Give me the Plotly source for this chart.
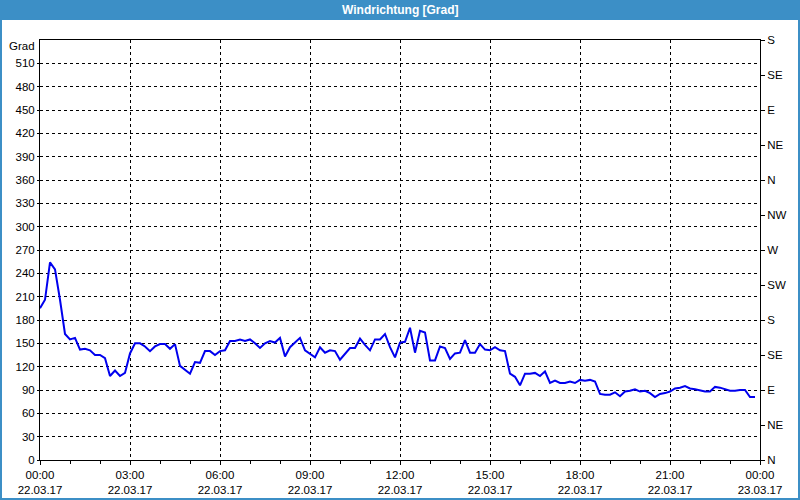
import plotly.graph_objects as go
import pandas as pd

# Wind direction in degrees, 10-minute samples from 22.03.17 00:00
direction = [
    195, 206, 254, 245, 206, 162, 155, 157, 142, 143, 141, 135,
    135, 131, 108, 115, 108, 112, 137, 150, 150, 146, 140, 146,
    149, 149, 143, 149, 121, 116, 111, 126, 125, 140, 140, 135,
    140, 141, 153, 153, 155, 153, 155, 150, 144, 150, 153, 151,
    157, 133, 145, 151, 157, 141, 137, 132, 145, 138, 141, 140,
    129, 137, 144, 144, 156, 148, 141, 155, 155, 162, 145, 132,
    151, 152, 170, 138, 166, 164, 128, 128, 146, 144, 130, 137,
    138, 154, 138, 138, 149, 142, 141, 145, 141, 140, 111, 107,
    96, 111, 111, 112, 108, 114, 99, 102, 99, 99, 101, 99,
    103, 102, 103, 101, 85, 84, 84, 87, 82, 88, 89, 91,
    88, 89, 86, 81, 85, 86, 88, 92, 93, 95, 92, 91,
    89, 88, 88, 94, 93, 91, 89, 89, 90, 90, 81, 81,
]
times = pd.date_range("2017-03-22 00:00", periods=len(direction), freq="10min")

left_ticks = list(range(0, 540, 30))
compass_vals = list(range(0, 541, 45))
compass_text = ["N", "NE", "E", "SE", "S", "SW", "W", "NW", "N", "NE", "E", "SE", "S"]

fig = go.Figure()
fig.add_trace(go.Scatter(x=times, y=direction, mode="lines",
                         line=dict(color="#0000ee", width=2), showlegend=False))
# invisible trace for right axis
fig.add_trace(go.Scatter(x=[times[0]], y=[0], yaxis="y2", mode="markers",
                         marker=dict(opacity=0), showlegend=False, hoverinfo="skip"))

font = dict(family="Liberation Sans, Arial, sans-serif", size=11.5, color="black")

fig.update_layout(
    width=800, height=500,
    margin=dict(l=40, r=40, t=40, b=40),
    paper_bgcolor="white", plot_bgcolor="white",
    font=font,
    xaxis=dict(
        type="date", automargin=False,
        range=["2017-03-22 00:00", "2017-03-23 00:00"],
        dtick=3 * 3600000, tick0="2017-03-22 00:00",
        tickformat="%H:%M<br>%d.%m.%y",
        showgrid=True, gridcolor="black", griddash="3px,3px", gridwidth=1,
        showline=True, linecolor="black", linewidth=1, mirror=True,
        ticks="outside", ticklen=4, tickcolor="black",
        minor=dict(dtick=3600000, ticks="outside", ticklen=3, tickcolor="black", showgrid=False),
        zeroline=False, tickfont=font,
    ),
    yaxis=dict(
        range=[0, 540], tickvals=left_ticks, automargin=False,
        showgrid=True, gridcolor="black", griddash="3px,3px", gridwidth=1,
        showline=True, linecolor="black", linewidth=1, mirror=True,
        ticks="outside", ticklen=2, tickcolor="black",
        zeroline=False, tickfont=font,
    ),
    yaxis2=dict(
        range=[0, 540], overlaying="y", side="right", automargin=False,
        tickvals=compass_vals, ticktext=compass_text,
        showgrid=False, showline=True, linecolor="black", linewidth=1,
        ticks="outside", ticklen=4, tickcolor="black",
        zeroline=False, tickfont=font,
    ),
    shapes=[
        dict(type="rect", xref="paper", yref="paper",
             x0=-40 / 720, x1=760 / 720, y0=440 / 420, y1=460 / 420,
             fillcolor="#3c8fc6", line=dict(width=0), layer="above"),
        dict(type="rect", xref="paper", yref="paper",
             x0=-39 / 720, x1=759 / 720, y0=-39 / 420, y1=459 / 420,
             fillcolor="rgba(0,0,0,0)", line=dict(color="#3c8fc6", width=2)),
    ],
    annotations=[
        dict(text="<b>Windrichtung [Grad]</b>", xref="paper", yref="paper",
             x=360 / 720, y=450 / 420, showarrow=False, xanchor="center", yanchor="middle",
             font=dict(family="Liberation Sans, Arial, sans-serif", size=12, color="white")),
        dict(text="Grad", xref="paper", yref="paper",
             x=-3 / 720, y=414 / 420, showarrow=False, xanchor="right", yanchor="middle",
             font=font),
    ],
)

fig.write_html("out.html")
